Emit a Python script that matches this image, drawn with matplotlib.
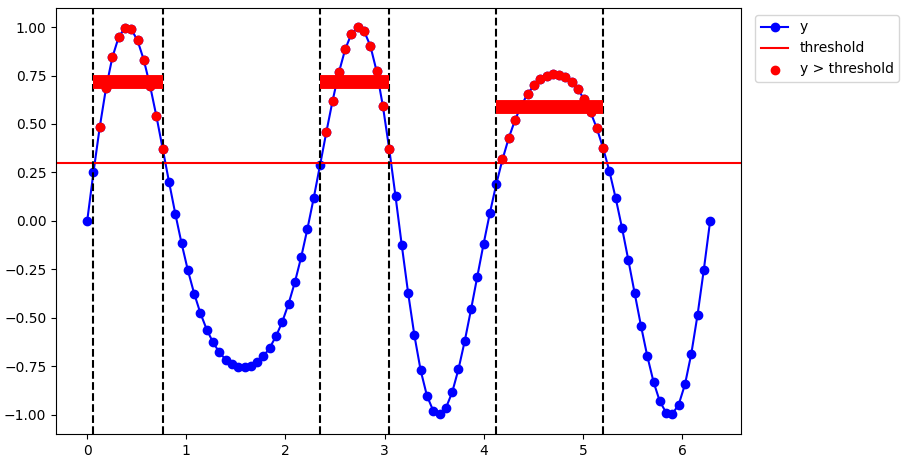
import numpy as np
import matplotlib
matplotlib.use("Agg")
import matplotlib.pyplot as plt

# 100 samples over one period
x = np.linspace(0, 2 * np.pi, 100)
y = np.array([
    0.000, 0.251, 0.485, 0.687, 0.844, 0.948, 0.996, 0.989, 0.931, 0.830,
    0.696, 0.540, 0.372, 0.202, 0.037, -0.116, -0.255, -0.375, -0.477, -0.561,
    -0.627, -0.678, -0.716, -0.740, -0.754, -0.756, -0.749, -0.730, -0.699, -0.655,
    -0.596, -0.521, -0.428, -0.317, -0.188, -0.041, 0.118, 0.287, 0.457, 0.620,
    0.766, 0.885, 0.966, 0.999, 0.980, 0.903, 0.772, 0.591, 0.371, 0.127,
    -0.127, -0.371, -0.591, -0.772, -0.903, -0.980, -0.999, -0.966, -0.885, -0.766,
    -0.620, -0.457, -0.287, -0.118, 0.041, 0.188, 0.317, 0.428, 0.521, 0.596,
    0.655, 0.699, 0.730, 0.749, 0.756, 0.754, 0.740, 0.716, 0.678, 0.627,
    0.561, 0.477, 0.375, 0.255, 0.116, -0.037, -0.202, -0.372, -0.540, -0.696,
    -0.830, -0.931, -0.989, -0.996, -0.948, -0.844, -0.687, -0.485, -0.251, 0.000,
])
threshold = 0.3

mask = y > threshold
edges = np.where(np.diff(mask.astype(int)) != 0)[0]
starts, ends = edges[0::2], edges[1::2]

fig = plt.figure(figsize=(9.04, 4.66), dpi=100)
ax = fig.add_subplot(111)
fig.subplots_adjust(left=0.062, right=0.820, top=0.983, bottom=0.069)

ax.plot(x, y, 'b-o', label='y')
ax.axhline(threshold, color='red', label='threshold')
ax.scatter(x[mask], y[mask], color='red', label='y > threshold', zorder=3)

for s, e in zip(starts, ends):
    ax.axvline(x[s], color='black', linestyle='--')
    ax.axvline(x[e], color='black', linestyle='--')
    ax.hlines(np.mean(y[s:e + 1]), x[s], x[e], color='red', linewidth=10)

ax.legend(loc='upper left', bbox_to_anchor=(1.01, 1))
fig.savefig('out.png', dpi=100)
